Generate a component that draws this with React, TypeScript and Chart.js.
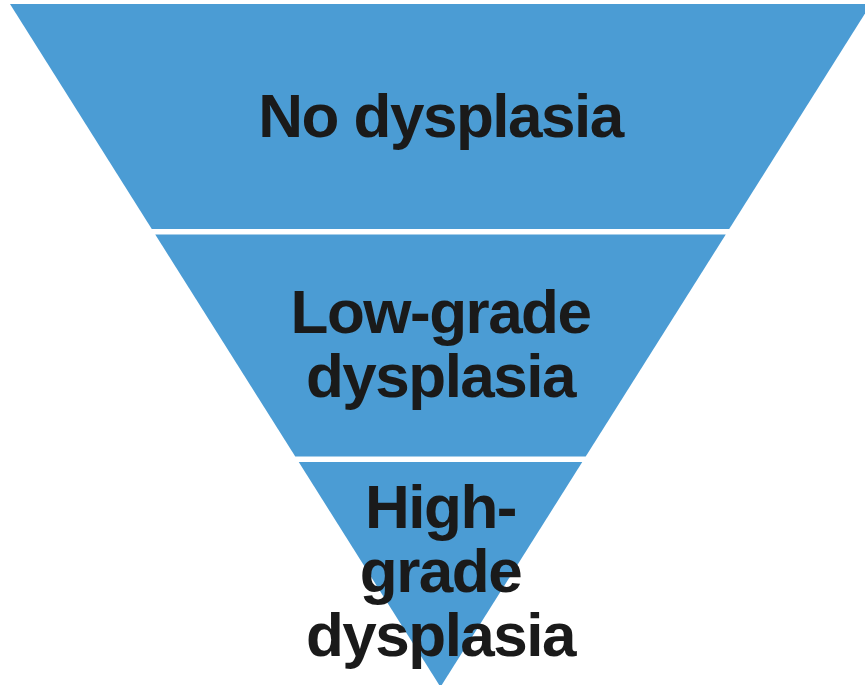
import React, { useEffect, useRef } from "react";
import { Chart, registerables } from "chart.js";

Chart.register(...registerables);

// Funnel stages, from top (widest) to bottom (apex)
const stageNames = ["No dysplasia", "Low-grade dysplasia", "High-grade dysplasia"];
const stageLabelLines = [["No dysplasia"], ["Low-grade", "dysplasia"], ["High-", "grade", "dysplasia"]];
const stageDepths = [1, 1, 1]; // relative height of each band
const stageColors = ["#4B9CD4", "#4B9CD4", "#4B9CD4"];

const funnelPlugin = {
  id: "funnelPlugin",
  afterDatasetsDraw(chart: any) {
    const { ctx, scales } = chart;
    const xs = scales.x;
    const ys = scales.y;
    const total = stageDepths.reduce((a, b) => a + b, 0);
    const gap = 5.5;
    const halfW = (py: number) => {
      const v = ys.getValueForPixel(py);
      return Math.max(0, v / total);
    };
    let top = total;
    ctx.save();
    stageDepths.forEach((d, i) => {
      const bottom = top - d;
      const pyTop = ys.getPixelForValue(top) + (i > 0 ? gap / 2 : 0);
      const pyBot = ys.getPixelForValue(bottom) - (i < stageDepths.length - 1 ? gap / 2 : 0);
      const hwT = halfW(pyTop);
      const hwB = halfW(pyBot);
      ctx.beginPath();
      ctx.moveTo(xs.getPixelForValue(-hwT), pyTop);
      ctx.lineTo(xs.getPixelForValue(hwT), pyTop);
      ctx.lineTo(xs.getPixelForValue(hwB), pyBot);
      ctx.lineTo(xs.getPixelForValue(-hwB), pyBot);
      ctx.closePath();
      ctx.fillStyle = stageColors[i];
      ctx.fill();
      top = bottom;
    });

    // labels
    top = total;
    ctx.fillStyle = "#1a1a1a";
    ctx.font = "bold 62px 'Liberation Sans', Arial, sans-serif";
    (ctx as any).letterSpacing = "-1.5px";
    ctx.textAlign = "center";
    ctx.textBaseline = "alphabetic";
    const cx = xs.getPixelForValue(0);
    const lineH = 64;
    stageDepths.forEach((d, i) => {
      const bottom = top - d;
      const mid = (ys.getPixelForValue(top) + ys.getPixelForValue(bottom)) / 2;
      const lines = stageLabelLines[i];
      lines.forEach((ln, j) => {
        const base = mid - 3 + (j - (lines.length - 1) / 2) * lineH + 22;
        ctx.fillText(ln, cx, base);
      });
      top = bottom;
    });
    ctx.restore();
  },
};

export default function App() {
  const ref = useRef<HTMLCanvasElement | null>(null);
  useEffect(() => {
    if (!ref.current) return;
    const chart = new Chart(ref.current, {
      type: "scatter",
      data: {
        labels: stageNames,
        datasets: [{ label: "Funnel", data: [], pointRadius: 0 }],
      },
      options: {
        responsive: false,
        animation: false,
        layout: { padding: 0 },
        plugins: { legend: { display: false }, tooltip: { enabled: false } },
        scales: {
          x: { type: "linear", display: false, min: -1.0232, max: 0.9861 },
          y: { type: "linear", display: false, min: 0.0088, max: 3.0176 },
        },
      },
      plugins: [funnelPlugin],
    });
    return () => chart.destroy();
  }, []);
  return (
    <div style={{ position: "absolute", left: 0, top: 0, width: 865, height: 685, background: "#fff" }}>
      <canvas ref={ref} width={865} height={685} style={{ display: "block" }} />
    </div>
  );
}
